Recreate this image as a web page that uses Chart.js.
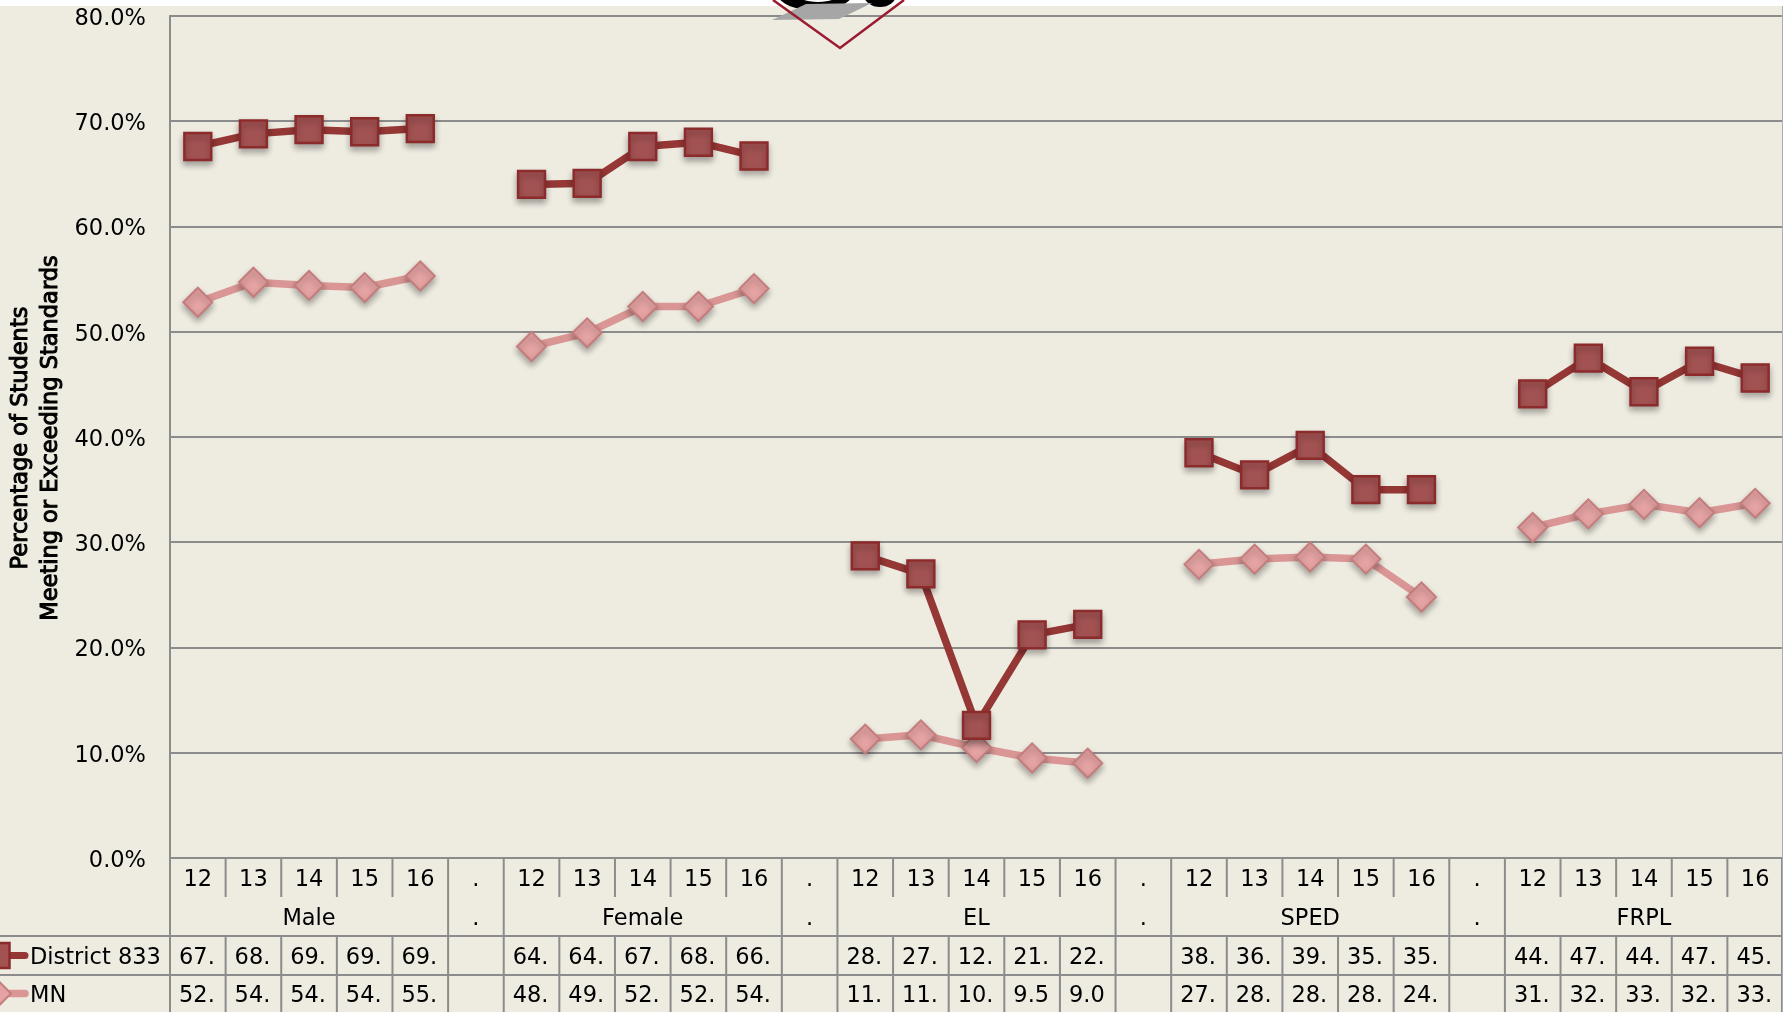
<!DOCTYPE html>
<html>
<head>
<meta charset="utf-8">
<script src="https://cdn.jsdelivr.net/npm/chart.js@4.4.0/dist/chart.umd.min.js"></script>
<style>
  html, body { margin: 0; padding: 0; background: #fff; }
  canvas { display: block; }
</style>
</head>
<body>
<canvas id="chart" width="1783" height="1012"></canvas>
<script>
// groups along the x axis, each with five years, separated by a "." gap
const groupNames = ['Male', 'Female', 'EL', 'SPED', 'FRPL'];
const yearLabels = ['12', '13', '14', '15', '16'];

// percent meeting or exceeding standards, 5 values per group
const district833 = [
  67.6, 68.8, 69.2, 69.0, 69.3,
  64.0, 64.1, 67.6, 68.0, 66.7,
  28.7, 27.0, 12.6, 21.2, 22.2,
  38.5, 36.4, 39.2, 35.0, 35.0,
  44.1, 47.5, 44.3, 47.2, 45.6
];
const mn = [
  52.8, 54.7, 54.4, 54.2, 55.3,
  48.6, 49.9, 52.4, 52.4, 54.1,
  11.3, 11.7, 10.5, 9.5, 9.0,
  27.9, 28.4, 28.6, 28.4, 24.8,
  31.4, 32.7, 33.6, 32.8, 33.7
];
const yTicks = [0, 10, 20, 30, 40, 50, 60, 70, 80];

const BG = '#EEEBE1';
const GRID = '#8c8c8c';
const FONT = "'DejaVu Sans', sans-serif";
const DIST_LINE = '#953735', DIST_FILL = '#A35252', DIST_EDGE = '#8C2B2B';
const MN_LINE = '#D99694', MN_FILL = '#E5A3A3', MN_EDGE = '#C47C7C';

// build the category list with gap columns between the groups
const labels = [];
const districtData = [];
const mnData = [];
groupNames.forEach((g, gi) => {
  if (gi > 0) {
    labels.push('.');
    districtData.push(null);
    mnData.push(null);
  }
  yearLabels.forEach((y, yi) => {
    labels.push(y);
    districtData.push(district833[gi * 5 + yi]);
    mnData.push(mn[gi * 5 + yi]);
  });
});

function fitText(c, s, w) {
  while (s.length && c.measureText(s).width > w) s = s.slice(0, -1);
  return s;
}

function drawSquare(c, x, y, size) {
  c.fillStyle = DIST_FILL;
  c.strokeStyle = DIST_EDGE;
  c.lineWidth = 2.5;
  c.beginPath();
  c.rect(x - size / 2, y - size / 2, size, size);
  c.fill();
  c.stroke();
}

function drawDiamond(c, x, y, r) {
  c.fillStyle = MN_FILL;
  c.strokeStyle = MN_EDGE;
  c.lineWidth = 2;
  c.beginPath();
  c.moveTo(x, y - r);
  c.lineTo(x + r, y);
  c.lineTo(x, y + r);
  c.lineTo(x - r, y);
  c.closePath();
  c.fill();
  c.stroke();
}

const backgroundPlugin = {
  id: 'background',
  beforeDraw(chart) {
    const c = chart.ctx;
    c.save();
    c.fillStyle = '#fff';
    c.fillRect(0, 0, chart.width, chart.height);
    c.fillStyle = BG;
    c.fillRect(0, 6, chart.width, chart.height - 6);
    c.restore();
  }
};

// soft drop shadow under the marker datasets only
const shadowPlugin = {
  id: 'markerShadow',
  beforeDatasetDraw(chart, args) {
    if (!chart.data.datasets[args.index].shadow) return;
    const c = chart.ctx;
    c.save();
    c.shadowColor = 'rgba(0,0,0,0.3)';
    c.shadowBlur = 6;
    c.shadowOffsetY = 4;
  },
  afterDatasetDraw(chart, args) {
    if (!chart.data.datasets[args.index].shadow) return;
    chart.ctx.restore();
  }
};

const tablePlugin = {
  id: 'dataTable',
  afterDraw(chart) {
    const c = chart.ctx;
    const area = chart.chartArea;
    const xs = chart.scales.x;
    const n = labels.length;
    const cw = (area.right - area.left) / n;
    const edge = k => area.left + k * cw;
    const rows = [area.bottom, area.bottom + 39, area.bottom + 78, area.bottom + 117, chart.height];
    const mid = r => (rows[r] + rows[r + 1]) / 2;
    const textY = r => mid(r) + 3;

    c.save();
    c.strokeStyle = GRID;
    c.lineWidth = 2;
    c.beginPath();
    // axis line continues down the left edge of the table
    c.moveTo(area.left, area.bottom);
    c.lineTo(area.left, chart.height);
    for (let k = 1; k <= n; k++) {
      const x = Math.min(edge(k), chart.width - 1);
      c.moveTo(x, rows[0]);
      c.lineTo(x, rows[1]);
      c.moveTo(x, rows[2]);
      c.lineTo(x, rows[4]);
      const isGroupEdge = k === n || labels[k] === '.' || labels[k - 1] === '.';
      if (isGroupEdge) {
        c.moveTo(x, rows[1]);
        c.lineTo(x, rows[2]);
      }
    }
    c.moveTo(0, rows[2]);
    c.lineTo(area.right, rows[2]);
    c.moveTo(0, rows[3]);
    c.lineTo(area.right, rows[3]);
    c.stroke();

    c.strokeStyle = '#a9aeb4';
    c.lineWidth = 1;
    c.beginPath();
    c.moveTo(chart.width - 0.5, 6);
    c.lineTo(chart.width - 0.5, chart.height);
    c.stroke();

    c.fillStyle = '#000';
    c.font = '22.5px ' + FONT;
    c.textBaseline = 'middle';
    c.textAlign = 'center';
    labels.forEach((lab, i) => {
      const x = xs.getPixelForValue(i);
      c.fillText(lab, x, textY(0));
      if (lab === '.') c.fillText('.', x, textY(1));
    });
    groupNames.forEach((g, gi) => {
      const start = gi * 6;
      c.fillText(g, (edge(start) + edge(start + 5)) / 2, textY(1));
    });

    c.textAlign = 'left';
    const pad = 9;
    [districtData, mnData].forEach((arr, r) => {
      arr.forEach((v, i) => {
        if (v === null) return;
        const s = fitText(c, v.toFixed(1) + '%', cw - pad);
        c.fillText(s, edge(i) + pad, textY(2 + r));
      });
    });

    // legend keys in the row headers
    c.lineCap = 'round';
    c.lineWidth = 7;
    c.strokeStyle = DIST_LINE;
    c.beginPath();
    c.moveTo(-3, mid(2));
    c.lineTo(25, mid(2));
    c.stroke();
    drawSquare(c, -3, mid(2), 25);
    c.lineWidth = 7.5;
    c.strokeStyle = MN_LINE;
    c.beginPath();
    c.moveTo(-3, mid(3));
    c.lineTo(25, mid(3));
    c.stroke();
    drawDiamond(c, -3, mid(3), 14);
    c.fillStyle = '#000';
    c.fillText('District 833', 30, textY(2));
    c.fillText('MN', 30, textY(3));

    // y axis title
    c.save();
    c.translate(36, (area.top + area.bottom) / 2 + 1);
    c.rotate(-Math.PI / 2);
    c.textAlign = 'center';
    c.font = '22.5px ' + FONT;
    c.lineWidth = 1;
    c.strokeStyle = '#000';
    c.fillText('Percentage of Students', 0, -15);
    c.strokeText('Percentage of Students', 0, -15);
    c.fillText('Meeting or Exceeding Standards', 0, 15);
    c.strokeText('Meeting or Exceeding Standards', 0, 15);
    c.restore();

    // partial logo peeking in at the top
    c.fillStyle = '#000';
    c.beginPath();
    c.ellipse(815, -4, 36, 14, 0, 0, Math.PI * 2);
    c.fill();
    c.beginPath();
    c.ellipse(880, -5, 16, 12, 0, 0, Math.PI * 2);
    c.fill();
    c.fillStyle = '#fff';
    c.beginPath();
    c.ellipse(818, -7, 22, 9, 0, 0, Math.PI * 2);
    c.fill();
    c.beginPath();
    c.ellipse(881, -8, 9, 8, 0, 0, Math.PI * 2);
    c.fill();
    c.fillStyle = '#a6a6a6';
    c.beginPath();
    c.moveTo(772, 20);
    c.lineTo(839, 19);
    c.lineTo(872, 3);
    c.lineTo(806, 4);
    c.closePath();
    c.fill();
    c.strokeStyle = '#9b1c31';
    c.lineWidth = 2.5;
    c.lineCap = 'butt';
    c.beginPath();
    c.moveTo(773, 0);
    c.lineTo(840, 48);
    c.lineTo(904, 0);
    c.stroke();
    c.restore();
  }
};

new Chart(document.getElementById('chart'), {
  type: 'line',
  data: {
    labels,
    datasets: [
      {
        label: 'District 833',
        data: districtData,
        borderColor: DIST_LINE,
        borderWidth: 7.5,
        pointRadius: 0,
        order: 2
      },
      {
        label: 'District 833',
        data: districtData,
        showLine: false,
        pointStyle: 'rect',
        pointRadius: 19,
        pointBackgroundColor: DIST_FILL,
        pointBorderColor: DIST_EDGE,
        pointBorderWidth: 2.5,
        order: 1,
        shadow: true
      },
      {
        label: 'MN',
        data: mnData,
        borderColor: MN_LINE,
        borderWidth: 7.5,
        pointRadius: 0,
        order: 4
      },
      {
        label: 'MN',
        data: mnData,
        showLine: false,
        pointStyle: 'rectRot',
        pointRadius: 14.5,
        pointBackgroundColor: MN_FILL,
        pointBorderColor: MN_EDGE,
        pointBorderWidth: 2,
        order: 3,
        shadow: true
      }
    ]
  },
  options: {
    responsive: false,
    animation: false,
    devicePixelRatio: 1,
    layout: { autoPadding: false, padding: { left: 0, top: 16, right: 0, bottom: 154 } },
    elements: { line: { tension: 0, borderJoinStyle: 'round' } },
    plugins: { legend: { display: false }, tooltip: { enabled: false } },
    scales: {
      x: { type: 'category', offset: true, display: false },
      y: {
        min: 0,
        max: 80,
        afterBuildTicks: s => { s.ticks = yTicks.map(v => ({ value: v })); },
        afterFit: s => { s.width = 170; },
        ticks: {
          callback: v => v.toFixed(1) + '%',
          font: { family: FONT, size: 22.5 },
          color: '#000',
          padding: 0,
          labelOffset: 3
        },
        grid: { color: GRID, lineWidth: 2, drawTicks: true, tickLength: 24, tickColor: 'rgba(0,0,0,0)' },
        border: { color: GRID, width: 2 }
      }
    }
  },
  plugins: [backgroundPlugin, shadowPlugin, tablePlugin]
});
</script>
</body>
</html>
